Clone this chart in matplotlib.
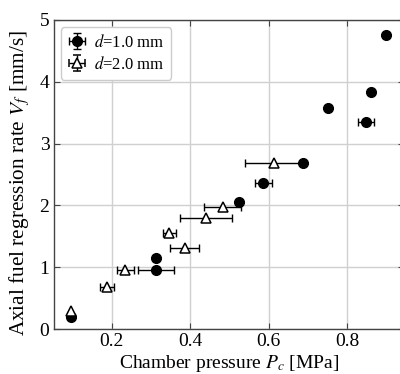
import numpy as np
import matplotlib
matplotlib.use("Agg")
import matplotlib.pyplot as plt

# d = 1.0 mm (filled circles)
pc1 = [0.097, 0.313, 0.313, 0.524, 0.586, 0.688, 0.750, 0.848, 0.859, 0.897]
vf1 = [0.20, 1.15, 0.95, 2.05, 2.37, 2.68, 3.57, 3.35, 3.83, 4.76]
xe1 = [0.0, 0.0, 0.045, 0.0, 0.022, 0.0, 0.0, 0.020, 0.0, 0.0]

# d = 2.0 mm (open triangles)
pc2 = [0.097, 0.188, 0.235, 0.347, 0.386, 0.440, 0.483, 0.613]
vf2 = [0.30, 0.68, 0.96, 1.56, 1.31, 1.80, 1.97, 2.68]
xe2 = [0.0, 0.018, 0.021, 0.016, 0.037, 0.067, 0.047, 0.073]

labels = [r"$d$=1.0 mm", r"$d$=2.0 mm"]

plt.rcParams['font.family'] = ['Liberation Serif', 'DejaVu Serif']
plt.rcParams['mathtext.fontset'] = 'stix'

fig = plt.figure(figsize=(4.0, 3.74), dpi=100)
ax = fig.add_axes([0.134, 0.12, 0.876, 0.827])

ms = 7
cap = 3
kw_c = dict(marker='o', ms=ms, mfc='black', mec='black', color='black')
kw_t = dict(marker='^', ms=ms, mfc='white', mec='black', mew=1.1, color='black')

for pc, vf, xe, kw in [(pc1, vf1, xe1, kw_c), (pc2, vf2, xe2, kw_t)]:
    pc = np.array(pc); vf = np.array(vf); xe = np.array(xe)
    m = xe > 0
    ax.errorbar(pc[m], vf[m], xerr=xe[m], fmt='none', ecolor='black',
                elinewidth=1.0, capsize=cap, capthick=1.0, zorder=3)
    ax.plot(pc, vf, ls='none', zorder=4, **kw)

# legend proxies
h1 = ax.errorbar([np.nan], [np.nan], xerr=[0.1], yerr=[0.1], fmt='o', ms=ms,
                 mfc='black', mec='black', color='black', capsize=cap,
                 elinewidth=1.0, capthick=1.0)
h2 = ax.errorbar([np.nan], [np.nan], xerr=[0.1], yerr=[0.1], fmt='^', ms=ms,
                 mfc='white', mec='black', mew=1.1, color='black', capsize=cap,
                 elinewidth=1.0, capthick=1.0)
leg = ax.legend([h1, h2], labels, loc='upper left', fontsize=12,
                handlelength=1.1, handletextpad=0.5, borderpad=0.4,
                labelspacing=0.3, borderaxespad=0.45, fancybox=True,
                framealpha=1.0, edgecolor='#cccccc')

ax.set_xlim(0.052, 0.944)
ax.set_ylim(0, 5)
ax.set_xticks([0.2, 0.4, 0.6, 0.8])
ax.set_yticks([0, 1, 2, 3, 4, 5])
ax.grid(True, color='#d0d0d0', lw=1.0)
ax.set_axisbelow(True)
ax.tick_params(direction='in', top=True, right=True, labelsize=14,
               length=4, width=0.8, color='#444444', pad=3)
for s in ax.spines.values():
    s.set_color('#444444')
    s.set_linewidth(1.0)

ax.set_xlabel(r"Chamber pressure $P_c$ [MPa]", fontsize=14, labelpad=2)
ax.set_ylabel(r"Axial fuel regression rate $V_f$ [mm/s]", fontsize=15.3)
ax.yaxis.set_label_coords(-0.062, 0.471)

fig.savefig("out.png", dpi=100)
